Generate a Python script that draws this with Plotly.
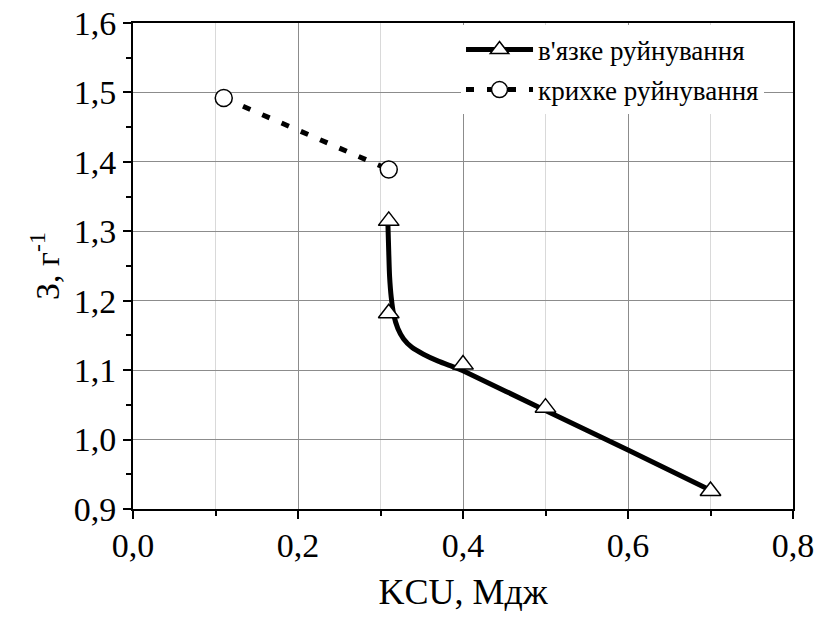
import plotly.graph_objects as go

# Data
ductile_x = [0.31, 0.31, 0.40, 0.50, 0.70]
ductile_y = [1.315, 1.182, 1.108, 1.046, 0.926]

# fitted curve through ductile data
curve_x = [0.309, 0.310, 0.311, 0.313, 0.316, 0.321, 0.328, 0.338, 0.352, 0.370, 0.390, 0.40, 0.50, 0.60, 0.70]
curve_y = [1.310, 1.270, 1.235, 1.205, 1.180, 1.160, 1.145, 1.133, 1.123, 1.113, 1.104, 1.099, 1.042, 0.985, 0.927]

brittle_x = [0.11, 0.31]
brittle_y = [1.492, 1.389]

names = ["в'язке руйнування", "крихке руйнування"]

FONT = "Liberation Serif"

fig = go.Figure()

fig.add_trace(go.Scatter(x=curve_x, y=curve_y, mode="lines", line=dict(color="black", width=5, shape="spline", smoothing=0.6),
                         showlegend=False, hoverinfo="skip"))
fig.add_trace(go.Scatter(x=ductile_x, y=ductile_y, mode="markers",
                         marker=dict(symbol="triangle-up", size=18, color="white", line=dict(color="black", width=1.5)),
                         showlegend=False))
fig.add_trace(go.Scatter(x=brittle_x, y=brittle_y, mode="lines+markers",
                         line=dict(color="black", width=5, dash="8px,13px"),
                         marker=dict(symbol="circle", size=17, color="white", line=dict(color="black", width=1.5)),
                         showlegend=False))

fig.add_trace(go.Scatter(x=[None], y=[None], mode="lines+markers", name=names[0], legendgroup="a",
                         line=dict(color="black", width=5),
                         marker=dict(symbol="triangle-up", size=18, color="white", line=dict(color="black", width=1.5))))
fig.add_trace(go.Scatter(x=[None], y=[None], mode="lines+markers", name=names[1], legendgroup="b",
                         line=dict(color="black", width=5, dash="8px,13px"),
                         marker=dict(symbol="circle", size=17, color="white", line=dict(color="black", width=1.5))))

axis_common = dict(
    showline=True, linecolor="black", linewidth=2, mirror=True,
    ticks="outside", ticklen=8, tickwidth=2, tickcolor="black",
    tickfont=dict(family=FONT, size=34, color="black"),
    zeroline=False,
)

fig.update_xaxes(
    range=[0, 0.8], dtick=0.2, tick0=0, tickformat=".1f",
    showgrid=True, gridcolor="#8c8c8c", gridwidth=1,
    ticklabelstandoff=-3,
    minor=dict(dtick=0.1, ticks="outside", ticklen=5, tickwidth=2, tickcolor="black", showgrid=True, gridcolor="#d9d9d9", gridwidth=1),
    title=dict(text="KCU, Мдж", font=dict(family=FONT, size=36, color="black"), standoff=16),
    **axis_common,
)
fig.update_yaxes(
    range=[0.9, 1.6], dtick=0.1, tick0=0.9, tickformat=".1f",
    showgrid=True, gridcolor="#8c8c8c", gridwidth=1,
    minor=dict(dtick=0.05, ticks="outside", ticklen=5, tickwidth=2, tickcolor="black", showgrid=False),
    title=dict(text="З, г<sup>-1</sup>", font=dict(family=FONT, size=34, color="black"), standoff=4),
    **axis_common,
)

fig.update_layout(
    width=821, height=619,
    margin=dict(l=133, r=28, t=23, b=110, autoexpand=False),
    paper_bgcolor="white", plot_bgcolor="white",
    separators=", ",
    font=dict(family=FONT, size=34, color="black"),
    legend=dict(x=0.497, y=0.995, xanchor="left", yanchor="top",
                bgcolor="white", borderwidth=0,
                font=dict(family=FONT, size=27, color="black"),
                itemwidth=67, traceorder="grouped", tracegroupgap=2),
)

fig.write_html("out.html", config={"displayModeBar": False},
               post_script="document.body.style.margin='0';document.body.style.padding='0';")
